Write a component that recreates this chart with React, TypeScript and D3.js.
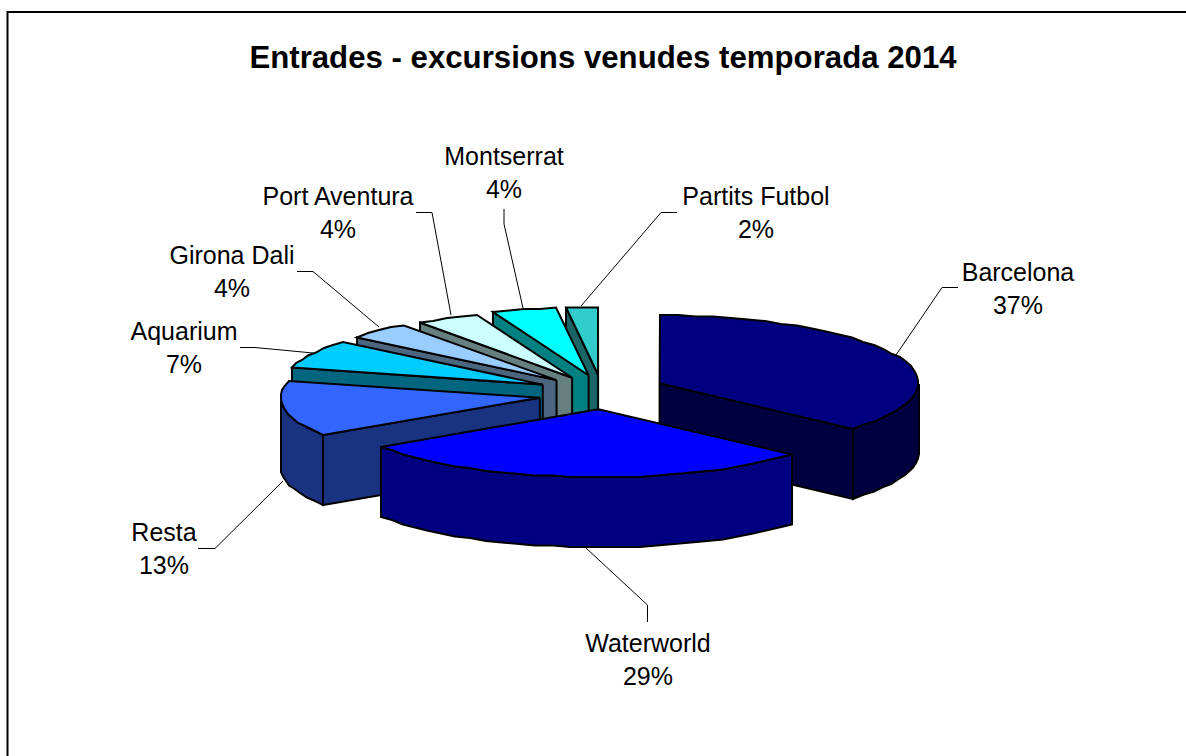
import React from "react";
import * as d3 from "d3";

const categories = ["Barcelona", "Waterworld", "Resta", "Aquarium", "Girona Dali", "Port Aventura", "Montserrat", "Partits Futbol"];
const values = [36.6, 29.2, 13.2, 7, 4, 4, 4, 2];
const topColors = ["#000080", "#0000ff", "#3366ff", "#00ccff", "#99ccff", "#ccffff", "#00ffff", "#33cccc"];
const wallColors = ["#000040", "#000080", "#1a3380", "#006680", "#4d6680", "#668080", "#008080", "#1a6666"];
const title = "Entrades - excursions venudes temporada 2014";

// label layout: centre x, first baseline
const labelX = [1018, 648, 164, 184, 232, 338, 504, 756];
const labelY = [281, 652, 541, 340, 264, 205, 165, 205];
// leader polylines
const leaders: [number, number][][] = [
  [[958, 287.5], [942, 287.5], [896, 355]],
  [[647.5, 622], [647.5, 605], [586, 548]],
  [[198, 548.5], [215, 548.5], [283, 481]],
  [[240, 347.5], [255, 347.5], [313, 353]],
  [[297, 271.5], [313, 271.5], [379, 327]],
  [[416, 212.5], [432, 212.5], [451, 315]],
  [[504, 209], [504, 224], [523, 308]],
  [[677, 212.5], [661, 212.5], [581, 306]],
];
// per-slice hand offset of the exploded apex
const nudgeX = [-1, -1, -3, -6, -5, -2, 0, -2];
const nudgeY = [-2, 1, 3, 0, 0, 0, -1, -1];

const W = 1186, H = 756;
const cx = 604, cy = 392, rx = 259, ry = 68, depth = 70, explode = 62;
const font = "'Liberation Sans', Arial, sans-serif";

const pie = d3.pie<number>().sort(null).value((d) => d).startAngle(0).endAngle(2 * Math.PI);
const line = d3.line();

type P = [number, number];

function arcPts(a: P, t0: number, t1: number, dy = 0): P[] {
  const n = Math.max(1, Math.ceil((t1 - t0) / ((4 * Math.PI) / 180)));
  return d3.range(n + 1).map((i) => {
    const t = t0 + ((t1 - t0) * i) / n;
    return [Math.round(a[0] + rx * Math.sin(t)), Math.round((a[1] - ry * Math.cos(t)) / 1.5) * 1.5 + dy] as P;
  });
}

export default function App() {
  const arcs = pie(values);
  const slices = arcs.map((s, i) => {
    const mid = (s.startAngle + s.endAngle) / 2;
    const apex: P = [cx + nudgeX[i] + explode * Math.sin(mid), cy + nudgeY[i] - (explode * ry / rx) * Math.cos(mid)];
    const t0 = s.startAngle, t1 = s.endAngle;
    const top = line([apex, ...arcPts(apex, t0, t1)].concat([apex]))!;
    const walls: string[] = [];
    const cut = (t: number) => {
      const [e] = arcPts(apex, t, t);
      walls.push(line([apex, e, [e[0], e[1] + depth], [apex[0], apex[1] + depth], apex])!);
    };
    if (t0 > Math.PI) cut(t0);
    if (t1 < Math.PI) cut(t1);
    const w0 = Math.max(t0, Math.PI / 2), w1 = Math.min(t1, (3 * Math.PI) / 2);
    if (w1 > w0) {
      const up = arcPts(apex, w0, w1);
      const down = arcPts(apex, w0, w1, depth).reverse();
      walls.push(line([...up, ...down, up[0]])!);
    }
    return { i, top, walls };
  });
  // painter's order: back slices first, Waterworld (front) last
  const order = [7, 6, 5, 4, 3, 2, 0, 1];
  return (
    <svg width={W} height={H} viewBox={`0 0 ${W} ${H}`} style={{ position: "absolute", left: 0, top: 0, background: "#fff" }}>
      <rect x={7.5} y={12} width={W + 20} height={H + 20} fill="#fff" stroke="#000" strokeWidth={2} />
      <text x={603} y={67.5} textAnchor="middle" fontFamily={font} fontWeight="bold" fontSize={31.2}>{title}</text>
      {leaders.map((l, i) => (
        <path key={i} d={line(l)!} fill="none" stroke="#000" strokeWidth={1} />
      ))}
      {order.map((i) => (
        <g key={i} stroke="#000" strokeWidth={2} strokeLinejoin="miter">
          {slices[i].walls.map((d, j) => (
            <path key={j} d={d} fill={wallColors[i]} />
          ))}
          <path d={slices[i].top} fill={topColors[i]} />
        </g>
      ))}
      {categories.map((c, i) => (
        <text key={c} textAnchor="middle" fontFamily={font} fontSize={25} fill="#000">
          <tspan x={labelX[i]} y={labelY[i]}>{c}</tspan>
          <tspan x={labelX[i]} y={labelY[i] + 33}>{Math.round(values[i])}%</tspan>
        </text>
      ))}
    </svg>
  );
}
